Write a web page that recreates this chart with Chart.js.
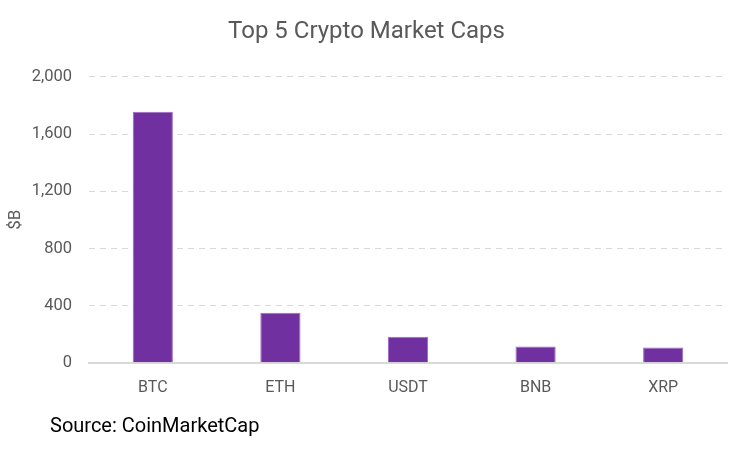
<!DOCTYPE html>
<html>
<head>
<meta charset="utf-8">
<script src="https://cdn.jsdelivr.net/npm/chart.js@4"></script>
<style>
  html, body { margin: 0; padding: 0; background: #fff; }
  #wrap { position: relative; width: 750px; height: 450px; }
  #source {
    position: absolute; left: 50px; top: 413px;
    font-family: Roboto, "Open Sans", sans-serif; font-size: 20px; color: #000;
  }
</style>
</head>
<body>
<div id="wrap">
  <canvas id="graph" width="750" height="450"></canvas>
  <div id="source">Source: CoinMarketCap</div>
</div>
<script>
// 銘柄
const coins = ["BTC", "ETH", "USDT", "BNB", "XRP"];
// 時価総額（$B）
const marketCaps = [1755, 350, 182, 114, 107];
// y軸の目盛り
const yTicks = [0, 400, 800, 1200, 1600, 2000];

const fontFamily = 'Roboto, "Open Sans", sans-serif';
const gray = "#595959";

const graph = document.getElementById("graph");

const config = {
  type: "bar",
  data: {
    labels: coins,
    datasets: [
      {
        label: "Market cap ($B)",
        data: marketCaps,
        backgroundColor: "#7030A0",
        borderColor: "#9b6ac0",
        borderWidth: 1,
        categoryPercentage: 1,
        barPercentage: 0.315,
      },
    ],
  },
  options: {
    responsive: false,
    animation: false,
    layout: {
      padding: { left: 6, right: 23, top: 0, bottom: 44 },
    },
    scales: {
      x: {
        grid: { display: false },
        border: { display: true, color: "#d9d9d9", width: 2 },
        ticks: {
          color: gray,
          font: { family: fontFamily, size: 16 },
          padding: 8,
        },
      },
      y: {
        min: 0,
        max: 2000,
        afterBuildTicks(axis) {
          axis.ticks = yTicks.map((v) => ({ value: v }));
        },
        afterFit(axis) {
          axis.width = 83;
        },
        grid: {
          color: "#d9d9d9",
          lineWidth: 1,
          drawTicks: false,
        },
        border: { display: false, dash: [6, 5] },
        ticks: {
          color: gray,
          font: { family: fontFamily, size: 16.5 },
          padding: 17,
          callback: (v) => v.toLocaleString("en-US"),
        },
        title: {
          display: true,
          text: "$B",
          color: gray,
          font: { family: fontFamily, size: 17 },
          padding: { top: 0, bottom: 0 },
        },
      },
    },
    plugins: {
      legend: { display: false },
      tooltip: { enabled: false },
      title: {
        display: true,
        text: "Top 5 Crypto Market Caps",
        color: gray,
        font: { family: fontFamily, size: 24, weight: "normal" },
        padding: { top: 18, bottom: 30 },
      },
    },
  },
};

new Chart(graph, config);
</script>
</body>
</html>
